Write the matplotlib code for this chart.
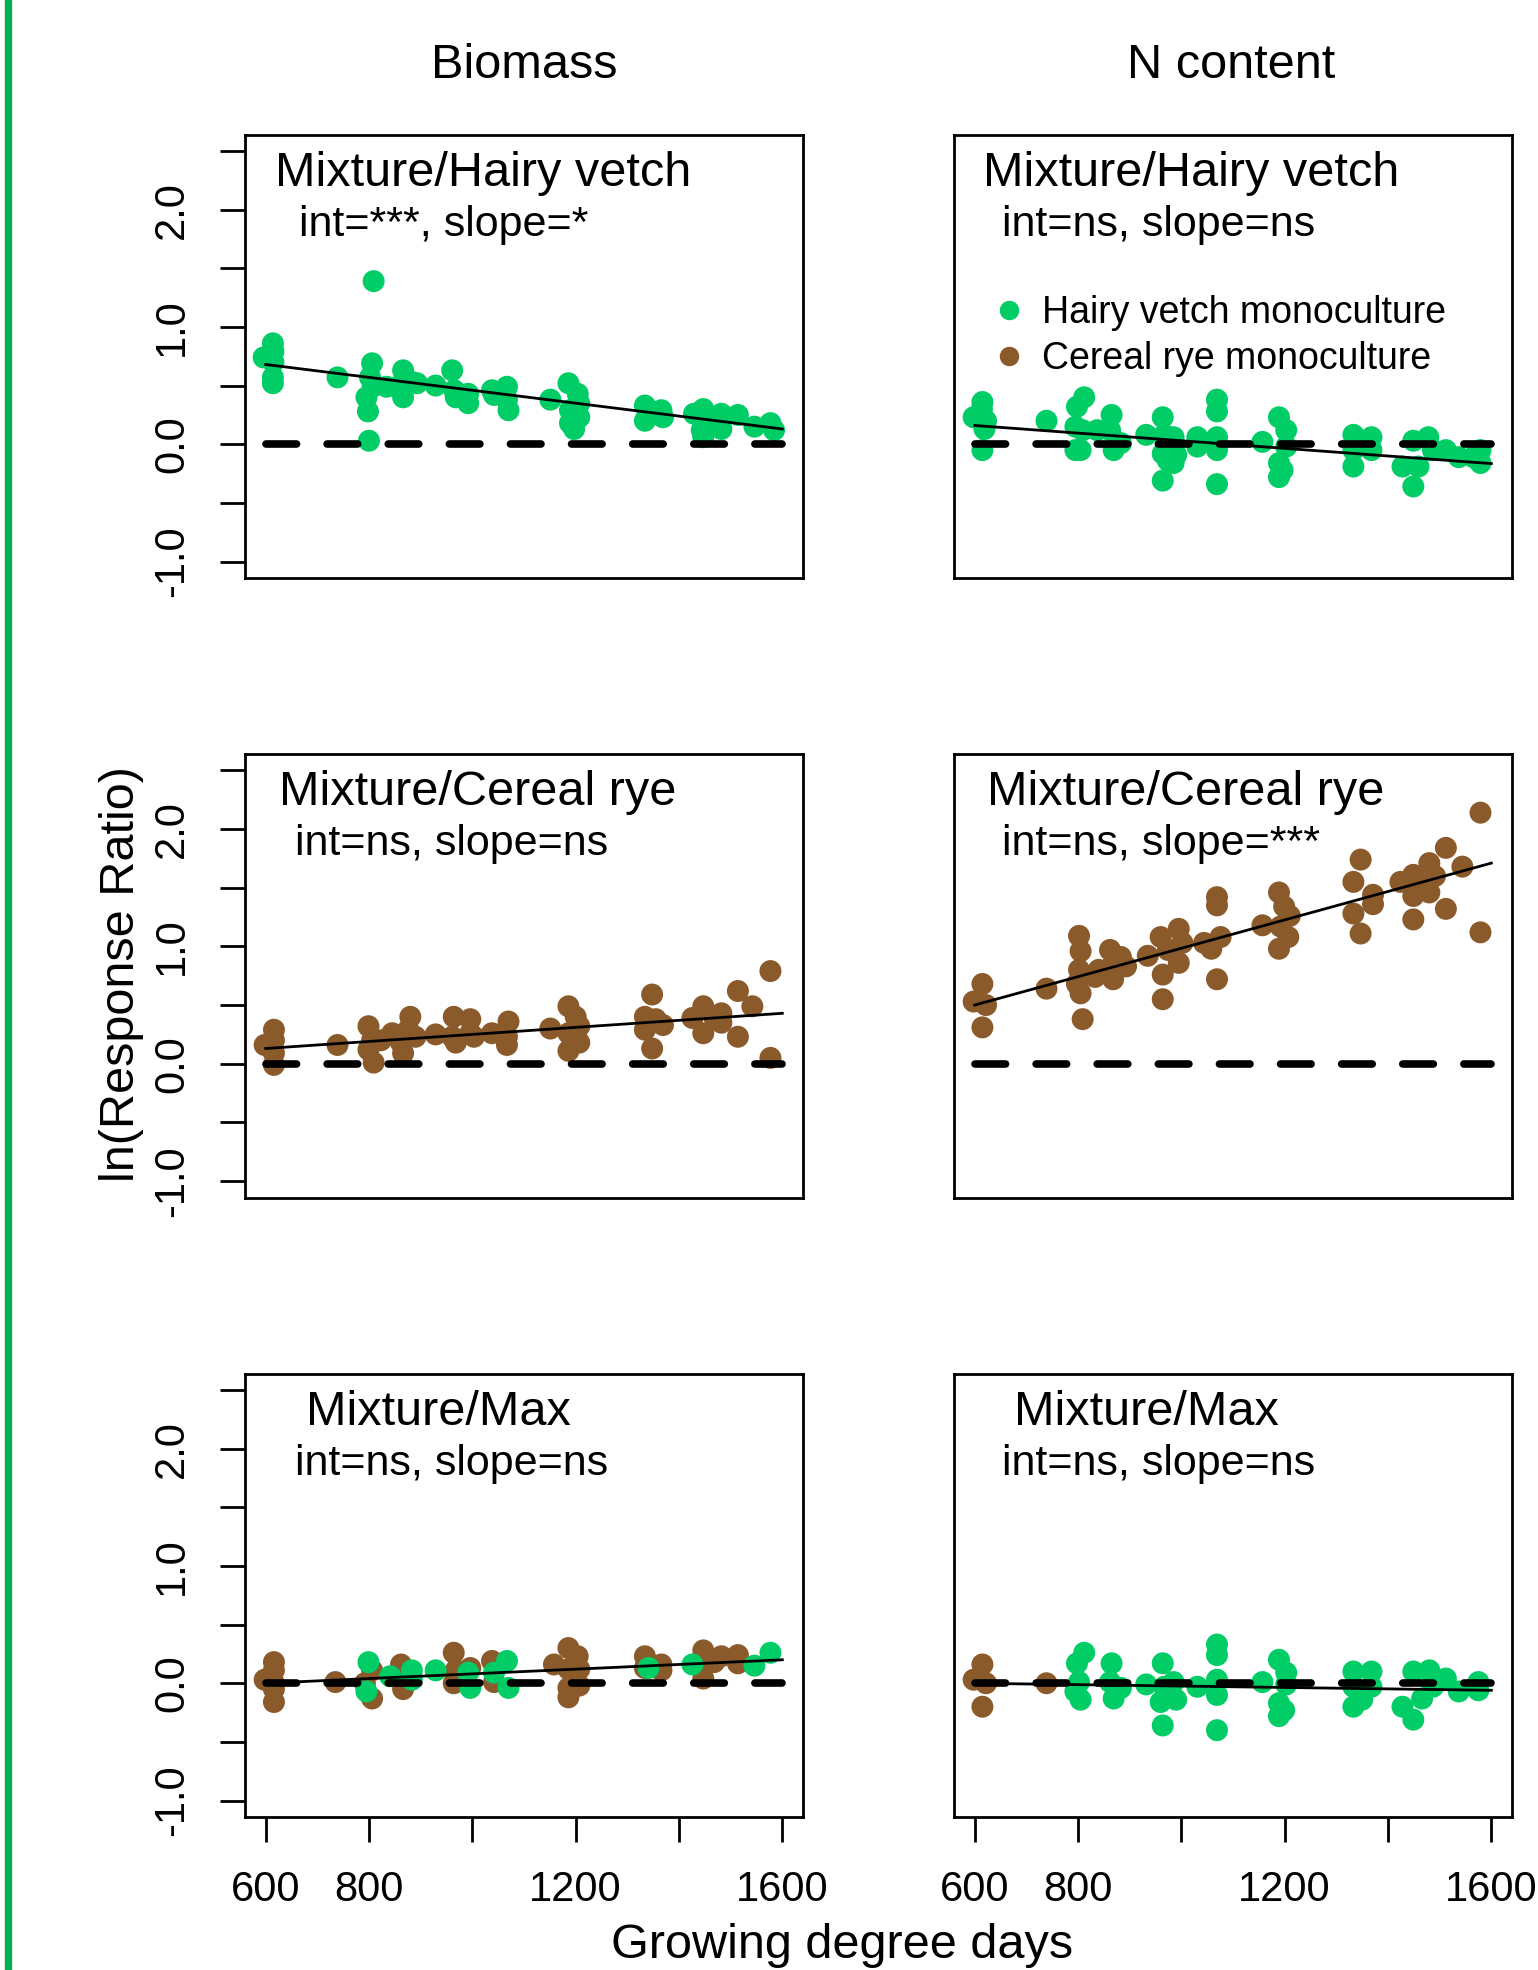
import matplotlib
matplotlib.use("Agg")
import matplotlib.pyplot as plt
from matplotlib.lines import Line2D
from matplotlib.patches import Rectangle

plt.rcParams['font.family'] = ['Liberation Sans', 'DejaVu Sans']

GREEN = '#00CD66'   # springgreen3
BROWN = '#8B5A2B'   # tan4

# ---- data (GDD, ln response ratio) ----
bio_hv_x = [596, 614, 615, 615, 614, 614, 739, 809, 806, 802, 807, 795, 798, 800,
            834, 855, 866, 866, 883, 893, 929, 961, 965, 968, 992, 992,
            1038, 1042, 1067, 1067, 1070, 1151, 1186, 1204, 1207, 1189, 1207, 1189, 1197,
            1334, 1334, 1366, 1369, 1429, 1447, 1444, 1461, 1482, 1514, 1482, 1447,
            1546, 1577, 1584]
bio_hv_y = [0.74, 0.86, 0.79, 0.70, 0.57, 0.52, 0.57, 1.39, 0.69, 0.57, 0.49, 0.40, 0.28, 0.03,
            0.49, 0.49, 0.63, 0.40, 0.53, 0.52, 0.50, 0.63, 0.46, 0.40, 0.43, 0.35,
            0.46, 0.42, 0.49, 0.38, 0.29, 0.38, 0.52, 0.43, 0.35, 0.29, 0.23, 0.18, 0.13,
            0.33, 0.20, 0.29, 0.23, 0.26, 0.30, 0.12, 0.18, 0.26, 0.25, 0.13, 0.06,
            0.15, 0.18, 0.12]

n_hv_x = [615, 614, 598, 622, 619, 615, 739, 812, 798, 795, 809, 795, 805,
          837, 865, 862, 869, 883, 932, 964, 967, 964, 974, 964, 985, 990, 985,
          1031, 1069, 1069, 1069, 1069, 1069, 1031, 1157, 1189, 1203, 1203, 1189, 1189, 1196,
          1333, 1333, 1333, 1368, 1368, 1428, 1449, 1449, 1459, 1478, 1487, 1512, 1537,
          1565, 1579, 1579]
n_hv_y = [0.36, 0.30, 0.23, 0.20, 0.13, -0.05, 0.20, 0.40, 0.32, 0.15, 0.12, -0.05, -0.05,
          0.12, 0.25, 0.12, -0.05, 0.01, 0.08, 0.23, 0.08, -0.08, -0.14, -0.31, 0.06, -0.09, -0.16,
          0.06, 0.38, 0.28, 0.06, -0.05, -0.34, -0.02, 0.02, 0.23, 0.12, -0.02, -0.16, -0.28, -0.22,
          0.08, -0.05, -0.19, 0.06, -0.05, -0.19, 0.03, -0.36, -0.19, 0.06, -0.05, -0.05, -0.11,
          -0.11, -0.16, -0.05]

bio_cr_x = [598, 616, 616, 616, 616, 739, 799, 806, 799, 809, 823,
            845, 862, 880, 876, 890, 866, 929, 964, 961, 968, 996, 996, 1003,
            1038, 1070, 1067, 1067, 1151, 1186, 1200, 1207, 1186, 1207, 1186,
            1348, 1334, 1334, 1348, 1369, 1355, 1426, 1447, 1447, 1468, 1482, 1482, 1514, 1514, 1542,
            1577, 1577]
bio_cr_y = [0.16, 0.29, 0.20, 0.09, -0.01, 0.16, 0.32, 0.20, 0.12, 0.01, 0.20,
            0.26, 0.18, 0.40, 0.29, 0.23, 0.09, 0.25, 0.40, 0.23, 0.18, 0.38, 0.26, 0.23,
            0.26, 0.36, 0.23, 0.16, 0.30, 0.49, 0.40, 0.32, 0.26, 0.18, 0.11,
            0.59, 0.40, 0.29, 0.13, 0.33, 0.38, 0.39, 0.49, 0.26, 0.40, 0.43, 0.35, 0.62, 0.23, 0.49,
            0.79, 0.05]

n_cr_x = [615, 598, 622, 615, 739, 802, 805, 802, 798, 805, 809,
          833, 862, 865, 868, 883, 893, 840, 935, 960, 964, 964, 974, 995, 995, 1002,
          1044, 1069, 1069, 1069, 1058, 1076, 1157, 1189, 1199, 1210, 1189, 1207, 1192,
          1347, 1333, 1333, 1347, 1371, 1371, 1424, 1449, 1449, 1449, 1466, 1480, 1491, 1480, 1512, 1512,
          1544, 1579, 1579]
n_cr_y = [0.68, 0.53, 0.50, 0.31, 0.64, 1.09, 0.96, 0.80, 0.68, 0.60, 0.38,
          0.74, 0.97, 0.83, 0.72, 0.91, 0.83, 0.80, 0.92, 1.08, 0.76, 0.55, 0.97, 1.15, 0.86, 1.03,
          1.03, 1.42, 1.35, 0.72, 0.98, 1.08, 1.18, 1.46, 1.34, 1.26, 0.98, 1.08, 1.17,
          1.74, 1.55, 1.28, 1.11, 1.36, 1.44, 1.55, 1.61, 1.43, 1.23, 1.53, 1.71, 1.60, 1.46, 1.84, 1.32,
          1.68, 2.14, 1.12]

# Mixture/Max: colour tells which monoculture was the max
bio_max_cr_x = [598, 616, 616, 616, 616, 616, 735, 806, 806, 792, 862, 866, 848,
                964, 964, 996, 968, 1038, 1042, 1186, 1204, 1158, 1186, 1207, 1186, 1186, 1207,
                1334, 1334, 1366, 1366, 1447, 1447, 1468, 1482, 1514, 1461, 1514]
bio_max_cr_y = [0.03, 0.18, 0.11, -0.05, -0.16, 0.0, 0.01, 0.11, -0.13, 0.0, 0.16, -0.05, 0.06,
                0.26, 0.0, 0.13, 0.11, 0.19, 0.01, 0.30, 0.23, 0.16, 0.12, 0.12, -0.04, -0.12, -0.02,
                0.23, 0.13, 0.16, 0.11, 0.28, 0.04, 0.18, 0.23, 0.24, 0.20, 0.17]
bio_max_hv_x = [799, 795, 841, 883, 883, 929, 992, 996, 1042, 1067, 1070, 1341, 1426, 1546, 1577]
bio_max_hv_y = [0.18, -0.07, 0.06, 0.03, 0.11, 0.11, 0.09, -0.04, 0.09, 0.19, -0.04, 0.13, 0.16, 0.15, 0.26]

n_max_cr_x = [615, 598, 622, 615, 739]
n_max_cr_y = [0.16, 0.03, 0.0, -0.20, 0.0]
n_max_hv_x = [812, 798, 802, 805, 795, 865, 862, 869, 883,
              932, 964, 967, 960, 964, 985, 990, 1031, 1069, 1069, 1069, 1069, 1069,
              1157, 1189, 1203, 1203, 1189, 1189, 1199, 1333, 1333, 1333, 1368, 1368, 1350,
              1428, 1449, 1449, 1466, 1480, 1487, 1512, 1537, 1575, 1575]
n_max_hv_y = [0.26, 0.17, 0.01, -0.14, -0.07, 0.17, 0.01, -0.13, -0.04,
              -0.01, 0.17, -0.03, -0.16, -0.36, 0.01, -0.14, -0.03, 0.33, 0.24, 0.03, -0.10, -0.40,
              0.01, 0.20, 0.09, -0.01, -0.17, -0.28, -0.23, 0.10, -0.03, -0.20, 0.10, -0.03, -0.14,
              -0.20, 0.10, -0.31, -0.13, 0.11, -0.03, 0.04, -0.07, 0.01, -0.06]

# fitted regression lines, value at 600 and 1600 GDD
fit_x = [600, 1600]
fit_bio_hv = [0.68, 0.13]
fit_n_hv = [0.16, -0.165]
fit_bio_cr = [0.13, 0.43]
fit_n_cr = [0.50, 1.71]
fit_bio_max = [0.0, 0.20]
fit_n_max = [0.0, -0.06]

col_titles = ['Biomass', 'N content']
row_titles = ['Mixture/Hairy vetch', 'Mixture/Cereal rye', 'Mixture/Max']
stats = [['int=***, slope=*', 'int=ns, slope=ns'],
         ['int=ns, slope=ns', 'int=ns, slope=***'],
         ['int=ns, slope=ns', 'int=ns, slope=ns']]
x_ticks = [600, 800, 1000, 1200, 1400, 1600]
x_ticklabels = ['600', '800', '', '1200', '', '1600']
y_ticks = [-1.0, -0.5, 0.0, 0.5, 1.0, 1.5, 2.0, 2.5]
y_ticklabels = ['-1.0', '', '0.0', '', '1.0', '', '2.0', '']

panels = [
    [[(bio_hv_x, bio_hv_y, GREEN)], fit_bio_hv],
    [[(n_hv_x, n_hv_y, GREEN)], fit_n_hv],
    [[(bio_cr_x, bio_cr_y, BROWN)], fit_bio_cr],
    [[(n_cr_x, n_cr_y, BROWN)], fit_n_cr],
    [[(bio_max_cr_x, bio_max_cr_y, BROWN), (bio_max_hv_x, bio_max_hv_y, GREEN)], fit_bio_max],
    [[(n_max_cr_x, n_max_cr_y, BROWN), (n_max_hv_x, n_max_hv_y, GREEN)], fit_n_max],
]

W, H = 1538, 1970
fig = plt.figure(figsize=(W / 100, H / 100), dpi=100)

col_left = [245 / W, 954 / W]
col_w = 558 / W
row_bottom = [1 - 578 / H, 1 - 1197.5 / H, 1 - 1817 / H]
row_h = 443.5 / H
title_x = [[0.054, 0.052], [0.061, 0.059], [0.110, 0.108]]
stat_x = [[0.097, 0.086], [0.090, 0.086], [0.090, 0.086]]

for r in range(3):
    for c in range(2):
        ax = fig.add_axes([col_left[c], row_bottom[r], col_w, row_h])
        series, fit = panels[r * 2 + c]
        for xs, ys, col in series:
            ax.scatter(xs, ys, s=250, color=col, edgecolors='none', zorder=2)
        ax.plot(fit_x, [0, 0], color='black', lw=5.5, linestyle=(0, (4.0, 4.0)),
                dash_capstyle='round', zorder=3)
        ax.plot(fit_x, fit, color='black', lw=2, zorder=4)
        ax.set_xlim(560, 1640)
        ax.set_ylim(-1.14, 2.64)
        for sp in ax.spines.values():
            sp.set_linewidth(2)
        ax.tick_params(length=18, width=2, labelsize=30, pad=20)
        if c == 0:
            ax.set_yticks(y_ticks)
            ax.set_yticklabels(y_ticklabels, rotation=90, va='center')
        else:
            ax.set_yticks([])
        if r == 2:
            ax.set_xticks(x_ticks)
            ax.set_xticklabels(x_ticklabels)
        else:
            ax.set_xticks([])
        ax.text(title_x[r][c], 0.885, row_titles[r], transform=ax.transAxes,
                fontsize=35, va='baseline', ha='left')
        ax.text(stat_x[r][c], 0.772, stats[r][c], transform=ax.transAxes,
                fontsize=31, va='baseline', ha='left')
        if r == 0 and c == 1:
            handles = [Line2D([], [], marker='o', linestyle='none', color=GREEN, markersize=13),
                       Line2D([], [], marker='o', linestyle='none', color=BROWN, markersize=13)]
            ax.legend(handles, ['Hairy vetch monoculture', 'Cereal rye monoculture'],
                      loc='center left', bbox_to_anchor=(0.0645, 0.545), frameon=False,
                      fontsize=27, handlelength=1.0, handletextpad=0.4,
                      labelspacing=0.27, borderpad=0, borderaxespad=0)

fig.text(524 / W, 1 - 78 / H, col_titles[0], fontsize=35, ha='center', va='baseline')
fig.text(1231.5 / W, 1 - 78 / H, col_titles[1], fontsize=35, ha='center', va='baseline')
fig.text(122 / W, 1 - 974 / H, 'ln(Response Ratio)', fontsize=35, rotation=90,
         ha='center', va='center')
fig.text(842 / W, 1 - 1958 / H, 'Growing degree days', fontsize=35,
         ha='center', va='baseline')

# green bar down the left edge
fig.patches.append(Rectangle((5 / W, 0), 6 / W, 1, transform=fig.transFigure,
                             color='#00B050', zorder=5))

fig.savefig('out.png', dpi=100, facecolor='white')
